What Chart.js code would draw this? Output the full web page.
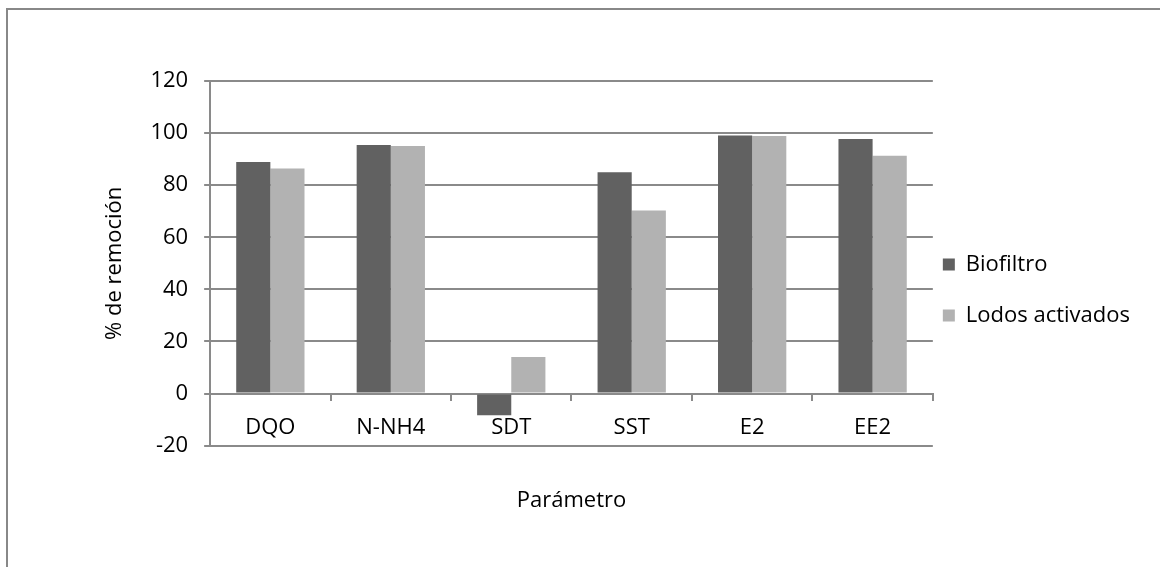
<!DOCTYPE html>
<html>
<head>
<meta charset="utf-8">
<script src="https://cdn.jsdelivr.net/npm/chart.js@4"></script>
<style>
    html, body { margin: 0; padding: 0; background: #fff; overflow: hidden; }
    .frame {
        position: absolute; left: 6px; top: 8px; width: 2000px; height: 2000px;
        border-top: 2px solid #888; border-left: 2px solid #888;
    }
    #chart { position: absolute; left: 0; top: 0; }
</style>
</head>
<body>
<div class="frame"></div>
<canvas id="chart" width="1160" height="567"></canvas>
<script>
// values
const categories = ['DQO', 'N-NH4', 'SDT', 'SST', 'E2', 'EE2'];
const biofiltro = [88.9, 95.4, -8.3, 85.0, 99.1, 97.7];
const lodosActivados = [86.4, 95.0, 14.0, 70.3, 98.9, 91.3];
const seriesNames = ['Biofiltro', 'Lodos activados'];

const yMin = -20;
const yMax = 120;
const yStep = 20;

Chart.defaults.font.family = "'Open Sans', sans-serif";
Chart.defaults.font.size = 22;
Chart.defaults.color = '#000';

const gridGray = '#8a8a8a';

const ctx = document.getElementById('chart').getContext('2d');

new Chart(ctx, {
    type: 'bar',
    data: {
        labels: categories,
        datasets: [
            { label: seriesNames[0], data: biofiltro, backgroundColor: '#616161' },
            { label: seriesNames[1], data: lodosActivados, backgroundColor: '#b2b2b2' }
        ]
    },
    options: {
        responsive: false,
        animation: false,
        categoryPercentage: 0.567,
        barPercentage: 1,
        layout: {
            padding: { top: 81, left: 87, right: 20, bottom: 49 }
        },
        plugins: {
            tooltip: { enabled: false },
            legend: {
                position: 'right',
                align: 'center',
                labels: {
                    boxWidth: 12,
                    boxHeight: 12,
                    padding: 10,
                    font: { size: 22, lineHeight: 1.86 },
                    // single-line arrays so the row height follows lineHeight
                    generateLabels: (chart) => {
                        const items = Chart.defaults.plugins.legend.labels.generateLabels(chart);
                        return items.map(item => Object.assign(item, { text: [item.text], lineWidth: 0 }));
                    }
                }
            }
        },
        scales: {
            x: {
                ticks: { display: false },
                grid: { display: false, drawTicks: false },
                border: { display: false },
                title: {
                    display: true,
                    text: 'Parámetro',
                    padding: { top: 42, bottom: 4 }
                }
            },
            xz: {
                type: 'category',
                axis: 'x',
                labels: categories,
                position: { y: 0 },
                offset: true,
                grid: {
                    offset: true,
                    drawOnChartArea: false,
                    drawTicks: true,
                    tickLength: 6,
                    color: gridGray,
                    lineWidth: 2
                },
                border: { display: true, color: gridGray, width: 2 },
                ticks: { padding: 15, autoSkip: false, maxRotation: 0 }
            },
            y: {
                min: yMin,
                max: yMax,
                ticks: { stepSize: yStep, padding: 16 },
                grid: { color: gridGray, lineWidth: 2, tickLength: 6 },
                border: { display: true, color: gridGray, width: 2 },
                title: {
                    display: true,
                    text: '% de remoción',
                    padding: { top: 15, bottom: 6 }
                }
            }
        }
    }
});
</script>
</body>
</html>
